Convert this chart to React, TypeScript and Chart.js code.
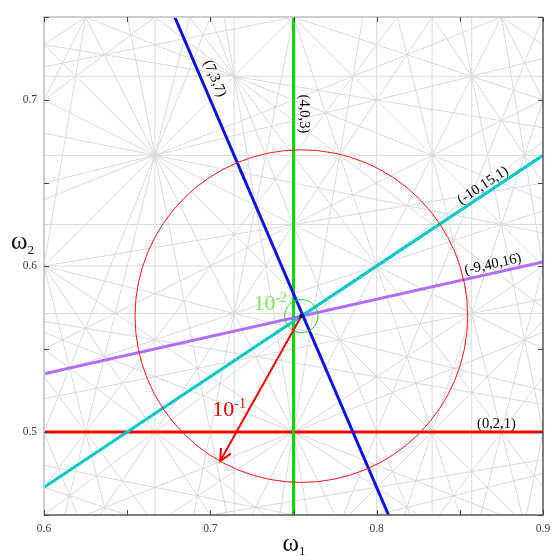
import React, { useEffect, useRef } from 'react';
import { Chart, registerables } from 'chart.js';

Chart.register(...registerables);

// Axis ranges and tick labels
const X_MIN = 0.6;
const X_MAX = 0.9;
const Y_MIN = 0.45;
const Y_MAX = 0.75;
const xTickLabels = ['0.6', '0.7', '0.8', '0.9'];
const yTickLabels = ['0.5', '0.6', '0.7'];
const minorTickStep = 0.05;

// Background resonance lines a*w1 + b*w2 = c, up to this order |a|+|b|
const BACKGROUND_ORDER = 7;
// extra background lines (a, b, c) seen in the picture beyond that order
const extraA = [0];
const extraB = [8];
const extraC = [5];

// Highlighted resonances (a, b, c)
const resonanceNames = ['(0,2,1)', '(4,0,3)', '(-9,40,16)', '(-10,15,1)', '(7,3,7)'];
const coefA = [0, 4, -9, -10, 7];
const coefB = [2, 0, 40, 15, 3];
const coefC = [1, 3, 16, 1, 7];
const resonanceColors = ['rgb(240,0,0)', 'rgb(0,220,0)', 'rgb(175,110,255)', 'rgb(0,200,200)', 'rgb(10,20,230)'];
// where the label sits along each line (w1, or w2 for vertical lines)
const labelAlong = [0.872, 0.6916, 0.871, 0.8666, 0.6957];
const labelOffset = [7.5, 10, 8.5, 8, 12.5];

// Distance circles around the intersection
const circleRadii = [0.1, 0.01];
const circleExponents = ['-1', '-2'];
const circleColors = ['rgb(255,20,20)', 'rgb(40,210,40)'];
const circleLabelColors = ['rgb(240,0,0)', 'rgb(125,230,85)'];
const circleLabelPos = [[0.7012, 0.5096], [0.7259, 0.5735]];
const arrowAngleDeg = 240.8;

function gcd(a: number, b: number): number {
  a = Math.abs(a); b = Math.abs(b);
  while (b) { const t = a % b; a = b; b = t; }
  return a;
}

function segment(a: number, b: number, c: number) {
  const eps = 1e-9;
  const pts: { x: number; y: number }[] = [];
  if (b !== 0) {
    for (const x of [X_MIN, X_MAX]) {
      const y = (c - a * x) / b;
      if (y >= Y_MIN - eps && y <= Y_MAX + eps) pts.push({ x, y });
    }
  }
  if (a !== 0) {
    for (const y of [Y_MIN, Y_MAX]) {
      const x = (c - b * y) / a;
      if (x >= X_MIN - eps && x <= X_MAX + eps) pts.push({ x, y });
    }
  }
  let best: any = null;
  let bd = 0;
  for (let i = 0; i < pts.length; i++)
    for (let j = i + 1; j < pts.length; j++) {
      const d = Math.hypot(pts[i].x - pts[j].x, pts[i].y - pts[j].y);
      if (d > bd) { bd = d; best = [pts[i], pts[j]]; }
    }
  return bd > 1e-6 ? best : null;
}

function backgroundLines() {
  const out: { x: number; y: number }[][] = [];
  const N = BACKGROUND_ORDER;
  for (let a = -N; a <= N; a++) {
    for (let b = -N; b <= N; b++) {
      if (Math.abs(a) + Math.abs(b) > N) continue;
      if (a === 0 && b === 0) continue;
      if (!(a > 0 || (a === 0 && b > 0))) continue;
      const vals = [a * X_MIN + b * Y_MIN, a * X_MIN + b * Y_MAX, a * X_MAX + b * Y_MIN, a * X_MAX + b * Y_MAX];
      const lo = Math.ceil(Math.min(...vals) - 1e-9);
      const hi = Math.floor(Math.max(...vals) + 1e-9);
      for (let c = lo; c <= hi; c++) {
        if (gcd(gcd(a, b), c) !== 1) continue;
        const s = segment(a, b, c);
        if (s) out.push(s);
      }
    }
  }
  extraA.forEach((a, i) => {
    const s = segment(a, extraB[i], extraC[i]);
    if (s) out.push(s);
  });
  return out;
}

function intersection(i: number, j: number) {
  const det = coefA[i] * coefB[j] - coefA[j] * coefB[i];
  const x = (coefC[i] * coefB[j] - coefC[j] * coefB[i]) / det;
  const y = (coefA[i] * coefC[j] - coefA[j] * coefC[i]) / det;
  return { x, y };
}

const SERIF = '"Liberation Serif", "Times New Roman", serif';

const overlayPlugin = {
  id: 'overlay',
  afterDatasetsDraw(chart: any) {
    const { ctx, chartArea, scales } = chart;
    const xs = scales.x, ys = scales.y;
    const px = (v: number) => xs.getPixelForValue(v);
    const py = (v: number) => ys.getPixelForValue(v);
    const center = intersection(2, 3);
    const cx = px(center.x), cy = py(center.y);

    ctx.save();
    // circles
    circleRadii.forEach((r, k) => {
      const rp = Math.abs(px(center.x + r) - cx);
      ctx.beginPath();
      ctx.strokeStyle = circleColors[k];
      ctx.lineWidth = 1;
      ctx.arc(cx, cy, rp, 0, Math.PI * 2);
      ctx.stroke();
    });
    // arrow
    const ang = (arrowAngleDeg * Math.PI) / 180;
    const ex = px(center.x + circleRadii[0] * Math.cos(ang));
    const ey = py(center.y + circleRadii[0] * Math.sin(ang));
    ctx.strokeStyle = 'rgb(240,0,0)';
    ctx.lineWidth = 2;
    ctx.beginPath();
    ctx.moveTo(cx, cy);
    ctx.lineTo(ex, ey);
    ctx.stroke();
    const dir = Math.atan2(ey - cy, ex - cx);
    const hl = 13;
    ctx.beginPath();
    ctx.moveTo(ex - hl * Math.cos(dir - 0.45), ey - hl * Math.sin(dir - 0.45));
    ctx.lineTo(ex, ey);
    ctx.lineTo(ex - hl * Math.cos(dir + 0.45), ey - hl * Math.sin(dir + 0.45));
    ctx.stroke();
    // center dot
    ctx.fillStyle = 'rgb(0,20,90)';
    ctx.beginPath();
    ctx.arc(cx, cy, 2.2, 0, Math.PI * 2);
    ctx.fill();

    // circle labels 10^-k
    circleRadii.forEach((_, k) => {
      const lx = px(circleLabelPos[k][0]);
      const ly = py(circleLabelPos[k][1]);
      ctx.fillStyle = circleLabelColors[k];
      ctx.textAlign = 'left';
      ctx.textBaseline = 'alphabetic';
      ctx.font = `22px ${SERIF}`;
      ctx.fillText('10', lx, ly);
      const w = ctx.measureText('10').width;
      ctx.font = `14px ${SERIF}`;
      ctx.fillText(circleExponents[k], lx + w, ly - 8);
    });

    // resonance labels
    ctx.fillStyle = '#000';
    ctx.font = `14.5px ${SERIF}`;
    ctx.textAlign = 'center';
    ctx.textBaseline = 'middle';
    resonanceNames.forEach((name, i) => {
      const a = coefA[i], b = coefB[i], c = coefC[i];
      let p: { x: number; y: number };
      if (b === 0) p = { x: c / a, y: labelAlong[i] };
      else p = { x: labelAlong[i], y: (c - a * labelAlong[i]) / b };
      const seg = segment(a, b, c);
      if (!seg) return;
      let dx = px(seg[1].x) - px(seg[0].x);
      let dy = py(seg[1].y) - py(seg[0].y);
      if (dx < -1e-6 || (Math.abs(dx) < 1e-6 && dy < 0)) { dx = -dx; dy = -dy; }
      const theta = Math.atan2(dy, dx);
      const nx = Math.sin(theta), ny = -Math.cos(theta);
      const tx = px(p.x) + nx * labelOffset[i];
      const ty = py(p.y) + ny * labelOffset[i];
      ctx.save();
      ctx.translate(tx, ty);
      ctx.rotate(theta);
      ctx.fillText(name, 0, 0);
      ctx.restore();
    });

    // frame
    const { left, right, top, bottom } = chartArea;
    ctx.lineWidth = 2;
    ctx.strokeStyle = 'rgb(205,205,205)';
    ctx.beginPath();
    ctx.moveTo(left, bottom);
    ctx.lineTo(left, top);
    ctx.lineTo(right, top);
    ctx.stroke();
    ctx.strokeStyle = 'rgb(85,85,85)';
    ctx.lineWidth = 1.5;
    ctx.beginPath();
    ctx.moveTo(right, top);
    ctx.lineTo(right, bottom);
    ctx.lineTo(left, bottom);
    ctx.stroke();
    // inward ticks
    ctx.lineWidth = 1;
    ctx.strokeStyle = 'rgb(70,70,70)';
    const tl = 5;
    const nxT = Math.round((X_MAX - X_MIN) / minorTickStep);
    for (let k = 0; k <= nxT; k++) {
      const x = Math.round(px(X_MIN + k * minorTickStep)) + 0.5;
      ctx.beginPath();
      ctx.moveTo(x, bottom); ctx.lineTo(x, bottom - tl);
      ctx.moveTo(x, top); ctx.lineTo(x, top + tl);
      ctx.stroke();
    }
    const nyT = Math.round((Y_MAX - Y_MIN) / minorTickStep);
    for (let k = 0; k <= nyT; k++) {
      const y = Math.round(py(Y_MIN + k * minorTickStep)) + 0.5;
      ctx.beginPath();
      ctx.moveTo(left, y); ctx.lineTo(left + tl, y);
      ctx.moveTo(right, y); ctx.lineTo(right - tl, y);
      ctx.stroke();
    }

    // axis titles
    ctx.fillStyle = '#111';
    ctx.textAlign = 'left';
    ctx.textBaseline = 'alphabetic';
    ctx.font = `25px ${SERIF}`;
    const ww = ctx.measureText('ω').width;
    const x1 = (left + right) / 2 - 11;
    ctx.fillText('ω', x1, 551);
    ctx.font = `13px ${SERIF}`;
    ctx.fillText('1', x1 + ww, 555);
    ctx.font = `25px ${SERIF}`;
    ctx.fillText('ω', 11, 249);
    ctx.font = `13px ${SERIF}`;
    ctx.fillText('2', 11 + ww, 254);
    ctx.restore();
  },
};

export default function App() {
  const ref = useRef<HTMLCanvasElement>(null);
  useEffect(() => {
    if (!ref.current) return;
    const bg = backgroundLines();
    const datasets: any[] = bg.map((seg) => ({
      data: seg,
      showLine: true,
      borderColor: 'rgb(218,218,218)',
      borderWidth: 1,
      pointRadius: 0,
      order: 100,
    }));
    resonanceNames.forEach((name, i) => {
      const seg = segment(coefA[i], coefB[i], coefC[i]);
      if (!seg) return;
      datasets.push({
        label: name,
        data: seg,
        showLine: true,
        borderColor: resonanceColors[i],
        borderWidth: 3,
        pointRadius: 0,
        order: 10 - i,
      });
    });
    const chart = new Chart(ref.current, {
      type: 'scatter',
      data: { datasets },
      options: {
        animation: false,
        responsive: false,
        events: [],
        layout: { padding: { top: 17, right: 11, left: 0, bottom: 0 } },
        plugins: { legend: { display: false }, tooltip: { enabled: false } },
        scales: {
          x: {
            type: 'linear',
            min: X_MIN,
            max: X_MAX,
            afterBuildTicks: (s: any) => { s.ticks = xTickLabels.map((t) => ({ value: parseFloat(t) })); },
            afterFit: (s: any) => { s.height = 41; s.paddingLeft = 0; s.paddingRight = 0; },
            grid: { display: false, drawTicks: false },
            border: { display: false },
            ticks: {
              padding: 7,
              maxRotation: 0,
              autoSkip: false,
              color: '#3a3a3a',
              font: { family: SERIF, size: 11.5 },
              callback: (v: any) => Number(v).toFixed(1),
            },
          },
          y: {
            type: 'linear',
            min: Y_MIN,
            max: Y_MAX,
            afterBuildTicks: (s: any) => { s.ticks = yTickLabels.map((t) => ({ value: parseFloat(t) })); },
            afterFit: (s: any) => { s.width = 44; s.paddingTop = 0; s.paddingBottom = 0; },
            grid: { display: false, drawTicks: false },
            border: { display: false },
            ticks: {
              padding: 7,
              autoSkip: false,
              color: '#3a3a3a',
              font: { family: SERIF, size: 11.5 },
              callback: (v: any) => Number(v).toFixed(1),
            },
          },
        },
      },
      plugins: [overlayPlugin],
    } as any);
    return () => chart.destroy();
  }, []);
  return (
    <div style={{ position: 'fixed', left: 0, top: 0, width: 554, height: 556, background: '#fff' }}>
      <canvas ref={ref} width={554} height={556} style={{ display: 'block' }} />
    </div>
  );
}
